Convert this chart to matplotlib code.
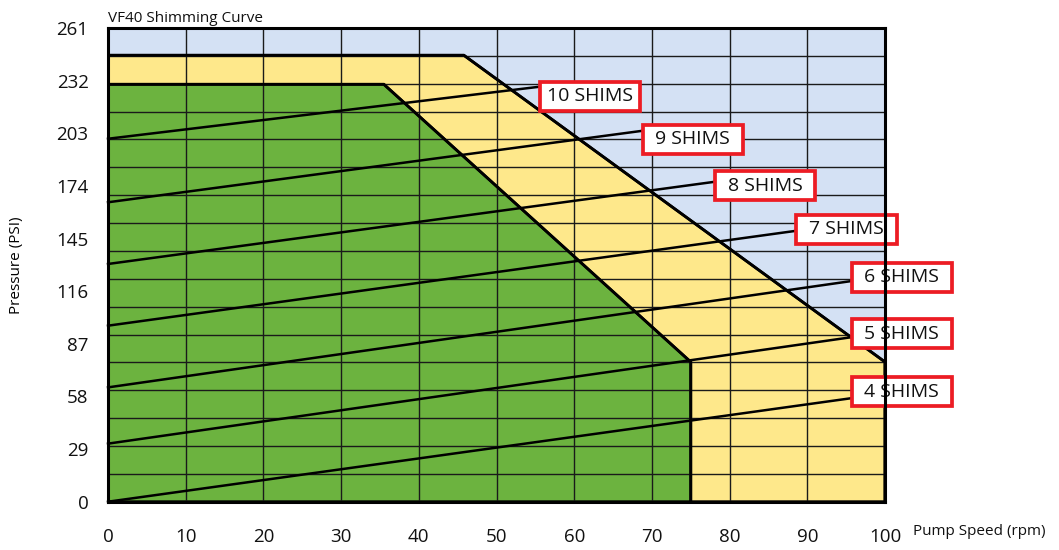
import numpy as np
import matplotlib
matplotlib.use("Agg")
import matplotlib.pyplot as plt
from matplotlib.patches import Polygon, Rectangle

plt.rcParams['font.family'] = ['Open Sans', 'DejaVu Sans']

# Eixos
x_ticks = [0, 10, 20, 30, 40, 50, 60, 70, 80, 90, 100]
y_ticks = [0, 29, 58, 87, 116, 145, 174, 203, 232, 261]
n_linhas_grade = 17

# Regiões (velocidade x pressão)
amarelo_x = [0, 0, 45.8, 100, 100]
amarelo_y = [0, 246, 246, 77, 0]
verde_x = [0, 0, 35.5, 75, 75]
verde_y = [0, 230, 230, 77, 0]

# Curvas de calços
shims = ["10 SHIMS", "9 SHIMS", "8 SHIMS", "7 SHIMS", "6 SHIMS", "5 SHIMS", "4 SHIMS"]
inicio_y = [200, 165, 131, 97, 63, 32, 0]
fim_x = [55.6, 68.8, 78.1, 88.6, 95.7, 95.6, 95.6]
fim_y = [228.7, 204.4, 176.3, 149.3, 121.6, 90.6, 57.0]
rotulo_x = [55.6, 68.8, 78.1, 88.6, 95.7, 95.7, 95.7]
rotulo_y = [223.5, 199.6, 174.2, 150.0, 123.6, 92.5, 60.6]

AZUL = "#D4E1F4"
AMARELO = "#FEE88B"
VERDE = "#6CB33F"
VERMELHO = "#EC1C24"

fig = plt.figure(figsize=(10.59, 5.5), dpi=100)
ax = fig.add_axes([0.102, 0.0878, 0.7337, 0.8612])
ax.set_facecolor(AZUL)
ax.set_xlim(0, 100)
ax.set_ylim(0, 261)

ax.add_patch(Polygon(list(zip(amarelo_x, amarelo_y)), closed=True, facecolor=AMARELO,
                     edgecolor="black", linewidth=2, zorder=1))
ax.add_patch(Polygon(list(zip(verde_x, verde_y)), closed=True, facecolor=VERDE,
                     edgecolor="black", linewidth=2, zorder=1.5))

# grade
ax.vlines(x_ticks[1:-1], 0, 261, colors="#1a1a1a", linewidth=1, zorder=2)
ax.hlines(np.linspace(0, 261, n_linhas_grade + 1)[1:-1], 0, 100, colors="#1a1a1a",
          linewidth=1, zorder=2)

# redesenha as bordas das regiões sobre a grade
ax.plot(amarelo_x[1:], amarelo_y[1:], color="black", linewidth=2, zorder=3)
ax.plot(verde_x[1:], verde_y[1:], color="black", linewidth=2, zorder=3)

larg_caixa = 12.9
alt_caixa = 16.0
for nome, y0, x1, y1, lx, ly in zip(shims, inicio_y, fim_x, fim_y, rotulo_x, rotulo_y):
    ax.plot([0, x1], [y0, y1], color="black", linewidth=1.8, zorder=4, clip_on=False)
    ax.add_patch(Rectangle((lx, ly - alt_caixa / 2), larg_caixa, alt_caixa, facecolor="white",
                           edgecolor=VERMELHO, linewidth=2.7, zorder=5, clip_on=False))
    ax.text(lx + larg_caixa / 2, ly, nome, ha="center", va="center", fontsize=14,
            color="#111111", zorder=6, clip_on=False)

for lado in ax.spines.values():
    lado.set_linewidth(2.2)
    lado.set_zorder(7)

ax.set_xticks(x_ticks)
ax.set_yticks(y_ticks)
ax.tick_params(axis="both", length=0, labelsize=13.5, colors="#111111")
ax.tick_params(axis="x", pad=19)
ax.tick_params(axis="y", pad=14)

ax.set_title("VF40 Shimming Curve", loc="left", fontsize=11, pad=4, color="#111111")
ax.set_ylabel("Pressure (PSI)", fontsize=11, labelpad=23)
fig.text(0.862, 0.027, "Pump Speed (rpm)", fontsize=11, va="baseline", color="#111111")

fig.savefig("out.png", dpi=100)
plt.close(fig)
